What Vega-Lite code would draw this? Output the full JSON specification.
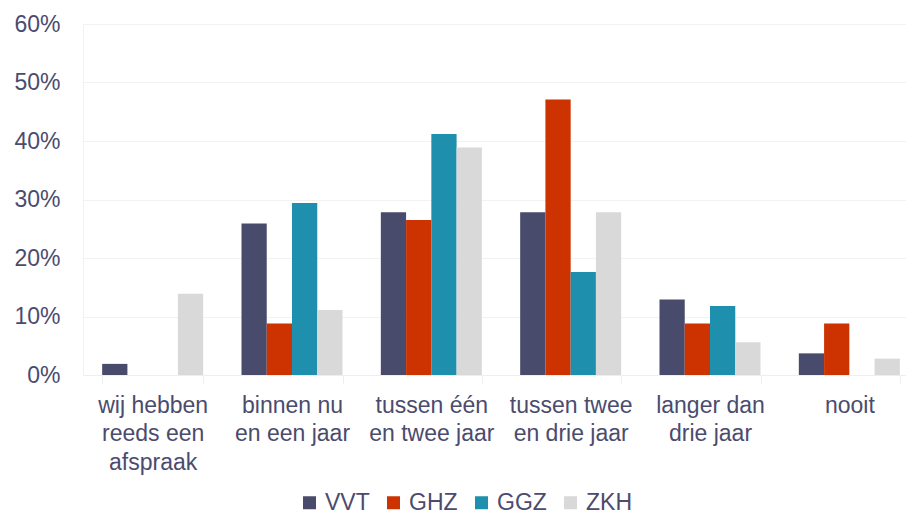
{
  "$schema": "https://vega.github.io/schema/vega-lite/v6.json",
  "width": 823,
  "height": 351,
  "autosize": {"type": "none"},
  "padding": {"left": 83, "top": 24, "right": 0, "bottom": 138},
  "background": "white",
  "config": {
    "view": {"stroke": null},
    "font": "Liberation Sans",
    "axis": {"labelFont": "Liberation Sans", "labelColor": "#4b4b6e", "labelFontSize": 23, "title": null}
  },
  "data": {
    "values": [
      {"cat": "wij hebben|reeds een|afspraak", "org": "VVT", "v": 0.019},
      {"cat": "wij hebben|reeds een|afspraak", "org": "GHZ", "v": 0},
      {"cat": "wij hebben|reeds een|afspraak", "org": "GGZ", "v": 0},
      {"cat": "wij hebben|reeds een|afspraak", "org": "ZKH", "v": 0.139},
      {"cat": "binnen nu|en een jaar", "org": "VVT", "v": 0.259},
      {"cat": "binnen nu|en een jaar", "org": "GHZ", "v": 0.088},
      {"cat": "binnen nu|en een jaar", "org": "GGZ", "v": 0.294},
      {"cat": "binnen nu|en een jaar", "org": "ZKH", "v": 0.111},
      {"cat": "tussen één|en twee jaar", "org": "VVT", "v": 0.278},
      {"cat": "tussen één|en twee jaar", "org": "GHZ", "v": 0.265},
      {"cat": "tussen één|en twee jaar", "org": "GGZ", "v": 0.412},
      {"cat": "tussen één|en twee jaar", "org": "ZKH", "v": 0.389},
      {"cat": "tussen twee|en drie jaar", "org": "VVT", "v": 0.278},
      {"cat": "tussen twee|en drie jaar", "org": "GHZ", "v": 0.471},
      {"cat": "tussen twee|en drie jaar", "org": "GGZ", "v": 0.176},
      {"cat": "tussen twee|en drie jaar", "org": "ZKH", "v": 0.278},
      {"cat": "langer dan|drie jaar", "org": "VVT", "v": 0.129},
      {"cat": "langer dan|drie jaar", "org": "GHZ", "v": 0.088},
      {"cat": "langer dan|drie jaar", "org": "GGZ", "v": 0.118},
      {"cat": "langer dan|drie jaar", "org": "ZKH", "v": 0.056},
      {"cat": "nooit", "org": "VVT", "v": 0.037},
      {"cat": "nooit", "org": "GHZ", "v": 0.088},
      {"cat": "nooit", "org": "GGZ", "v": 0},
      {"cat": "nooit", "org": "ZKH", "v": 0.028}
    ]
  },
  "mark": {"type": "bar"},
  "encoding": {
    "x": {
      "field": "cat",
      "type": "nominal",
      "sort": null,
      "scale": {"range": [0, 836], "paddingInner": 0.275, "paddingOuter": 0.1375},
      "axis": {
        "labelExpr": "split(datum.label, '|')",
        "labelAngle": 0,
        "labelLineHeight": 28.5,
        "labelPadding": 11,
        "labelFontSize": 23,
        "tickBand": "extent",
        "ticks": true,
        "tickSize": 8,
        "tickColor": "#eeeeee",
        "domainColor": "#eeeeee",
        "grid": false
      }
    },
    "xOffset": {
      "field": "org",
      "type": "nominal",
      "sort": ["VVT", "GHZ", "GGZ", "ZKH"],
      "scale": {"paddingInner": 0, "paddingOuter": 0}
    },
    "y": {
      "field": "v",
      "type": "quantitative",
      "scale": {"domain": [0, 0.6], "nice": false},
      "axis": {
        "format": ".0%",
        "values": [0, 0.1, 0.2, 0.3, 0.4, 0.5, 0.6],
        "ticks": false,
        "labelPadding": 23,
        "domain": true,
        "domainColor": "#f2f2f2",
        "grid": true,
        "gridColor": "#f2f2f2",
        "labelFontSize": 23
      }
    },
    "color": {
      "field": "org",
      "type": "nominal",
      "sort": ["VVT", "GHZ", "GGZ", "ZKH"],
      "scale": {"domain": ["VVT", "GHZ", "GGZ", "ZKH"], "range": ["#494b6d", "#cc3300", "#1e8fac", "#d9d9d9"]},
      "legend": {
        "orient": "none",
        "direction": "horizontal",
        "legendX": 215,
        "legendY": 467,
        "title": null,
        "symbolType": "square",
        "symbolSize": 169,
        "symbolStrokeWidth": 0,
        "labelFontSize": 23,
        "labelColor": "#4b4b6e",
        "labelFont": "Liberation Sans",
        "labelOffset": 4,
        "columnPadding": 12,
        "padding": 0
      }
    }
  }
}
